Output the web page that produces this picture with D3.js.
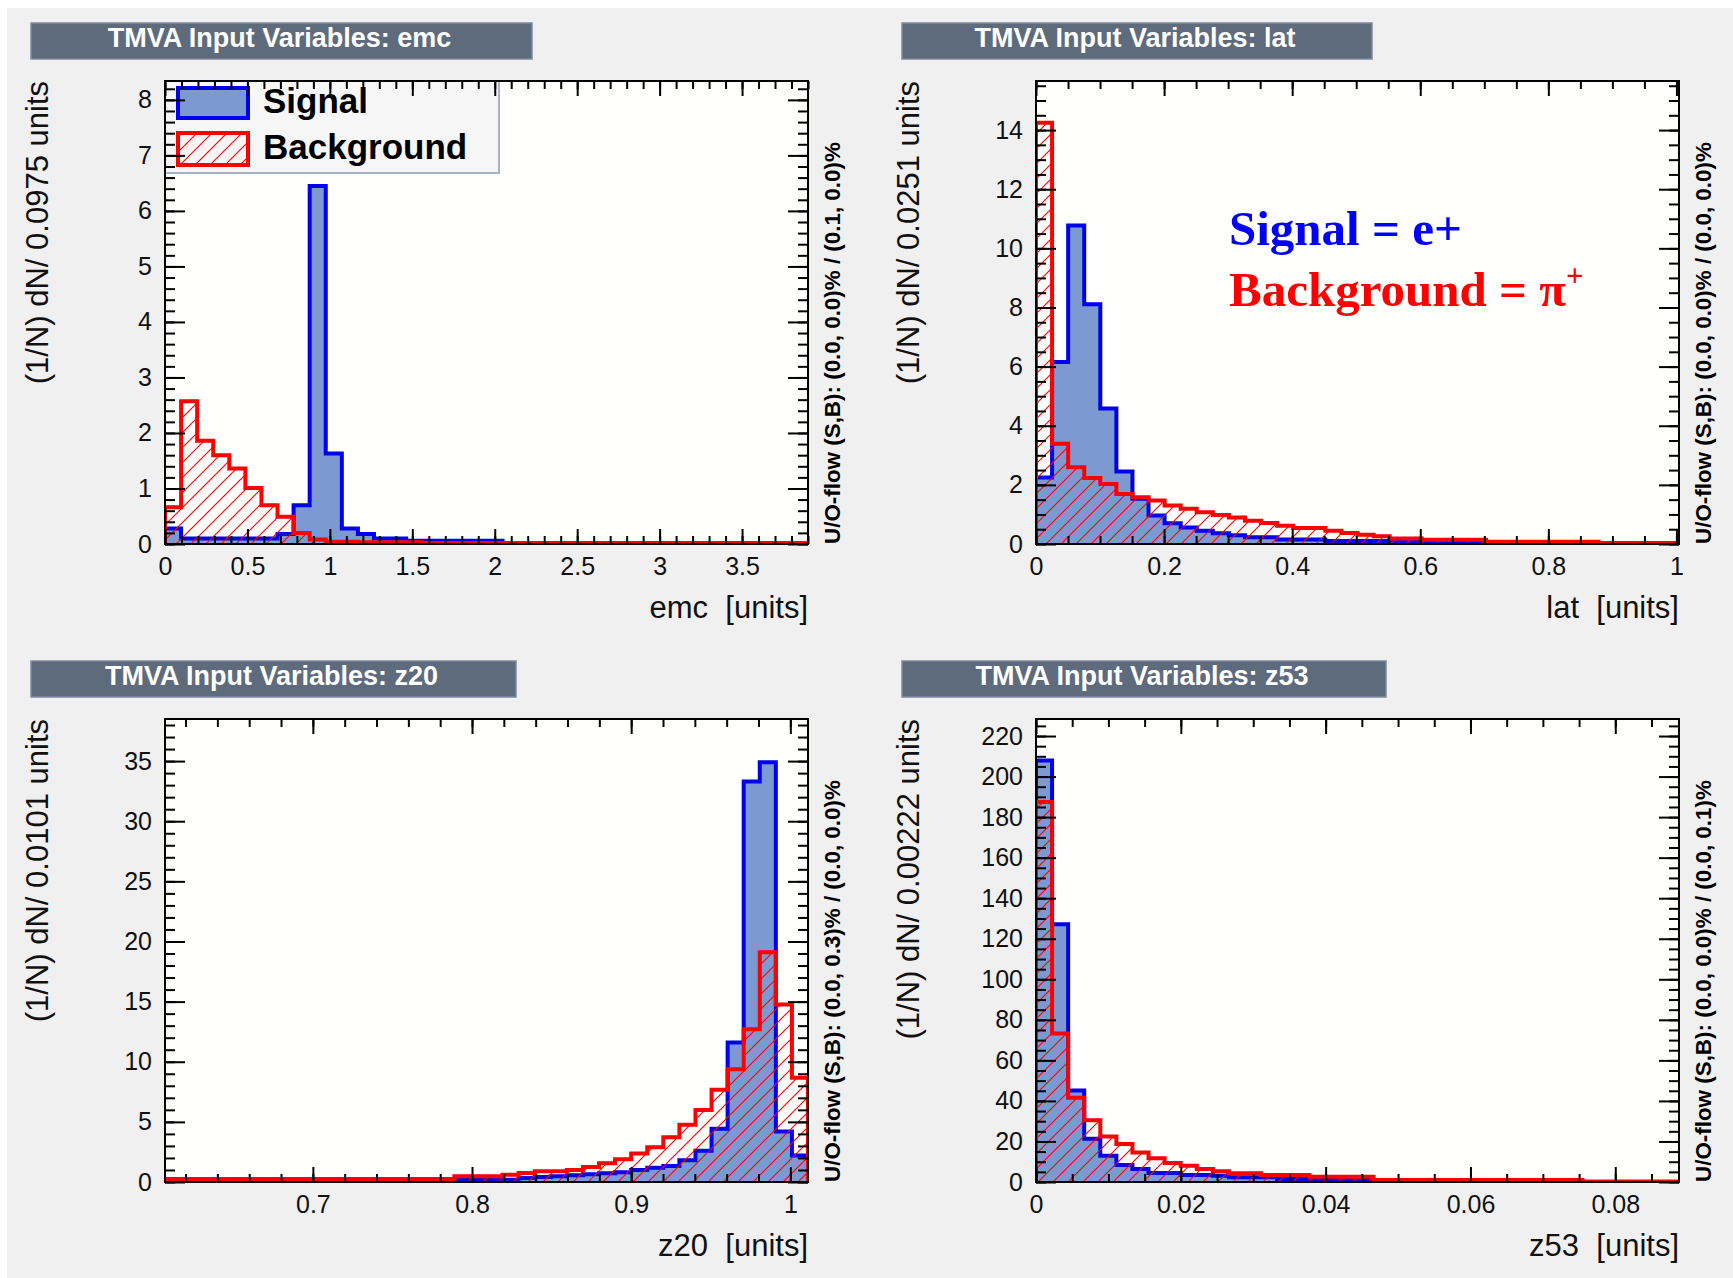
<!DOCTYPE html>
<html>
<head>
<meta charset="utf-8">
<script src="https://cdn.jsdelivr.net/npm/d3@7"></script>
<style>
  body { margin: 0; background: #ffffff; }
  svg { display: block; }
  text { font-family: "Liberation Sans", Arial, Helvetica, sans-serif; }
</style>
</head>
<body>
<svg id="canvas" width="1733" height="1278"></svg>
<script>
// ---- histogram contents, 40 bins each ----
const emcSignal = [0.28, 0.1, 0.1, 0.1, 0.1, 0.1, 0.1, 0.18, 0.7, 6.45,
  1.63, 0.28, 0.18, 0.1, 0.1, 0.06, 0.06, 0.06, 0.06, 0.06,
  0.06, 0, 0, 0, 0, 0, 0, 0, 0, 0,
  0, 0, 0, 0, 0, 0, 0, 0, 0, 0];
const emcBackground = [0.66, 2.57, 1.86, 1.6, 1.36, 1.01, 0.7, 0.49, 0.2, 0.08,
  0.04, 0.04, 0.03, 0.03, 0.03, 0.03, 0.02, 0.02, 0.02, 0.02,
  0.02, 0.02, 0.02, 0.02, 0.02, 0.02, 0.02, 0.02, 0.02, 0.02,
  0.02, 0.02, 0.02, 0.02, 0.02, 0.02, 0.02, 0.02, 0.02, 0.02];

const latSignal = [2.25, 6.16, 10.77, 8.11, 4.58, 2.45, 1.53, 0.96, 0.7, 0.56,
  0.45, 0.36, 0.3, 0.23, 0.23, 0.15, 0.15, 0.15, 0.1, 0.1,
  0.1, 0.1, 0.1, 0.1, 0.05, 0.05, 0.05, 0.05, 0.02, 0.02,
  0.02, 0.02, 0.02, 0.02, 0.01, 0.01, 0.01, 0.01, 0.01, 0.01];
const latBackground = [14.25, 3.39, 2.6, 2.23, 2.03, 1.69, 1.58, 1.47, 1.3, 1.19,
  1.07, 0.98, 0.9, 0.79, 0.71, 0.62, 0.54, 0.54, 0.45, 0.37,
  0.31, 0.26, 0.19, 0.19, 0.14, 0.14, 0.14, 0.14, 0.08, 0.08,
  0.08, 0.08, 0.08, 0.08, 0.08, 0.03, 0.03, 0.03, 0.03, 0.03];

const z20Signal = [0, 0, 0, 0, 0, 0, 0, 0, 0, 0,
  0, 0, 0, 0, 0, 0, 0, 0, 0.19, 0.19,
  0.19, 0.19, 0.33, 0.42, 0.47, 0.56, 0.65, 0.72, 0.82, 0.99,
  1.19, 1.33, 1.8, 2.6, 4.43, 11.6, 33.3, 34.9, 4.2, 2.2];
const z20Background = [0.25, 0.25, 0.25, 0.25, 0.25, 0.25, 0.25, 0.25, 0.25, 0.25,
  0.25, 0.25, 0.25, 0.25, 0.25, 0.25, 0.25, 0.25, 0.47, 0.47,
  0.47, 0.61, 0.75, 0.89, 0.89, 1.0, 1.25, 1.55, 1.89, 2.37,
  2.88, 3.73, 4.77, 5.99, 7.68, 9.38, 12.7, 19.1, 14.75, 8.67];

const z53Signal = [207.9, 127.1, 45.1, 21.3, 13.0, 8.4, 6.4, 4.4, 4.4, 3.45,
  3.45, 3.1, 2.3, 2.3, 2.3, 1.5, 1.5, 1.2, 1.2, 1.2,
  1.2, 0, 0, 0, 0, 0, 0, 0, 0, 0,
  0, 0, 0, 0, 0, 0, 0, 0, 0, 0];
const z53Background = [187.5, 73.2, 41.5, 30.5, 22.5, 18.7, 14.6, 11.7, 9.4, 8.0,
  6.4, 5.25, 4.3, 4.3, 3.45, 3.45, 3.45, 2.6, 2.6, 2.6,
  2.6, 1.0, 1.0, 1.0, 1.0, 1.0, 1.0, 1.0, 1.0, 1.0,
  1.0, 1.0, 1.0, 1.0, 0.3, 0.3, 0.3, 0.3, 0.3, 0.3];

// ---- axis tick labels ----
const emcXTicks = [0, 0.5, 1, 1.5, 2, 2.5, 3, 3.5];
const emcYTicks = [0, 1, 2, 3, 4, 5, 6, 7, 8];
const latXTicks = [0, 0.2, 0.4, 0.6, 0.8, 1];
const latYTicks = [0, 2, 4, 6, 8, 10, 12, 14];
const z20XTicks = [0.7, 0.8, 0.9, 1];
const z20YTicks = [0, 5, 10, 15, 20, 25, 30, 35];
const z53XTicks = [0, 0.02, 0.04, 0.06, 0.08];
const z53YTicks = [0, 20, 40, 60, 80, 100, 120, 140, 160, 180, 200, 220];

const panels = [
  { name: "emc", col: 0, row: 0, sig: emcSignal, bkg: emcBackground,
    xDomain: [0, 3.9], yMax: 8.34, xTicks: emcXTicks, xMinor: 0.1,
    yTicks: emcYTicks, yMinor: 0.2, titleW: 501,
    yTitle: "(1/N) dN/ 0.0975 units",
    flow: "U/O-flow (S,B): (0.0, 0.0)% / (0.1, 0.0)%" },
  { name: "lat", col: 1, row: 0, sig: latSignal, bkg: latBackground,
    xDomain: [0, 1.004], yMax: 15.66, xTicks: latXTicks, xMinor: 0.05,
    yTicks: latYTicks, yMinor: 0.5, titleW: 470,
    yTitle: "(1/N) dN/ 0.0251 units",
    flow: "U/O-flow (S,B): (0.0, 0.0)% / (0.0, 0.0)%" },
  { name: "z20", col: 0, row: 1, sig: z20Signal, bkg: z20Background,
    xDomain: [0.6071, 1.0111], yMax: 38.5, xTicks: z20XTicks, xMinor: 0.02,
    yTicks: z20YTicks, yMinor: 1, titleW: 485,
    yTitle: "(1/N) dN/ 0.0101 units",
    flow: "U/O-flow (S,B): (0.0, 0.3)% / (0.0, 0.0)%" },
  { name: "z53", col: 1, row: 1, sig: z53Signal, bkg: z53Background,
    xDomain: [0, 0.0888], yMax: 228.4, xTicks: z53XTicks, xMinor: 0.005,
    yTicks: z53YTicks, yMinor: 5, titleW: 484,
    yTitle: "(1/N) dN/ 0.00222 units",
    flow: "U/O-flow (S,B): (0.0, 0.0)% / (0.0, 0.1)%" }
];

// TMVA colours
const sigLine = "#0000ee", sigFill = "#7d99d1", bkgLine = "#ff0000";
const titleBox = "#5d6b7d", titleBorder = "#7d8b9d";

const COL = 871, ROW = 638;
const frame = { x: 165, y: 81, w: 643, h: 463 };
const fmt = d => String(+d.toFixed(4));

const svg = d3.select("#canvas");
svg.append("rect").attr("x", 7).attr("y", 8).attr("width", 1733).attr("height", 1278)
  .attr("fill", "#f0f0f0");

const defs = svg.append("defs");
defs.append("pattern").attr("id", "hatch").attr("patternUnits", "userSpaceOnUse")
  .attr("width", 15).attr("height", 15)
  .append("path").attr("d", "M-2,2 l4,-4 M0,15 l15,-15 M13,17 l4,-4")
  .attr("stroke", bkgLine).attr("stroke-width", 1.1);

function minorTicks(domain, step) {
  const a = Math.ceil(domain[0] / step - 1e-6), b = Math.floor(domain[1] / step + 1e-6);
  return d3.range(a, b + 1).map(k => +(k * step).toFixed(6));
}

function styleAxis(g) {
  g.select(".domain").remove();
  g.selectAll("line").attr("stroke", "#000").attr("stroke-width", 2);
  g.selectAll("text").attr("fill", "#111").attr("font-size", 25)
    .attr("font-family", "'Liberation Sans', Arial, sans-serif");
}

panels.forEach((p, i) => {
  const fx = frame.x + p.col * COL, fy = frame.y + p.row * ROW;
  const fb = fy + frame.h, fr = fx + frame.w;
  const x = d3.scaleLinear().domain(p.xDomain).range([fx, fr]);
  const y = d3.scaleLinear().domain([0, p.yMax]).range([fb, fy]);
  const binW = (p.xDomain[1] - p.xDomain[0]) / p.sig.length;

  // title bar
  const tx = 31 + p.col * COL, ty = 23 + p.row * ROW;
  svg.append("rect").attr("x", tx).attr("y", ty).attr("width", p.titleW).attr("height", 36)
    .attr("fill", titleBox).attr("stroke", titleBorder).attr("stroke-width", 1.5);
  svg.append("text").attr("x", tx + p.titleW / 2 - 2).attr("y", ty + 24)
    .attr("text-anchor", "middle").attr("fill", "#fff").attr("font-weight", "bold")
    .attr("font-size", 27).text("TMVA Input Variables: " + p.name);

  // frame
  svg.append("rect").attr("x", fx).attr("y", fy).attr("width", frame.w).attr("height", frame.h)
    .attr("fill", "#fffffd");
  defs.append("clipPath").attr("id", "clip" + i).append("rect")
    .attr("x", fx).attr("y", fy).attr("width", frame.w).attr("height", frame.h);

  const stepLine = d3.line().x(d => x(d[0])).y(d => y(d[1])).curve(d3.curveStepAfter);
  const pts = vals => [[p.xDomain[0], 0]]
    .concat(vals.map((v, k) => [p.xDomain[0] + k * binW, v]))
    .concat([[p.xDomain[1], 0]]);

  const plot = svg.append("g").attr("clip-path", `url(#clip${i})`);
  plot.append("path").attr("d", stepLine(pts(p.sig)))
    .attr("fill", sigFill).attr("stroke", sigLine).attr("stroke-width", 4)
    .attr("stroke-linejoin", "miter");
  plot.append("path").attr("d", stepLine(pts(p.bkg)))
    .attr("fill", "url(#hatch)").attr("stroke", bkgLine).attr("stroke-width", 4)
    .attr("stroke-linejoin", "miter");

  // legend (first panel only)
  if (i === 0) {
    const lg = svg.append("g");
    lg.append("rect").attr("x", fx).attr("y", fy).attr("width", 334).attr("height", 92)
      .attr("fill", "#f6f6f6").attr("stroke", "#8d9cb2").attr("stroke-width", 1.5);
    lg.append("rect").attr("x", 178).attr("y", 88).attr("width", 70).attr("height", 30)
      .attr("fill", sigFill).attr("stroke", sigLine).attr("stroke-width", 4);
    lg.append("rect").attr("x", 178).attr("y", 133).attr("width", 70).attr("height", 32)
      .attr("fill", "url(#hatch)").attr("stroke", bkgLine).attr("stroke-width", 4);
    lg.append("text").attr("x", 263).attr("y", 113).attr("font-size", 35)
      .attr("font-weight", "bold").attr("fill", "#000").text("Signal");
    lg.append("text").attr("x", 263).attr("y", 159).attr("font-size", 35)
      .attr("font-weight", "bold").attr("fill", "#000").text("Background");
  }

  // axes: major + minor ticks on all four sides
  const xMin = minorTicks(p.xDomain, p.xMinor), yMin = minorTicks([0, p.yMax], p.yMinor);
  svg.append("g").attr("transform", `translate(0,${fb})`)
    .call(d3.axisBottom(x).tickValues(xMin).tickSize(-8).tickFormat("")).call(styleAxis);
  svg.append("g").attr("transform", `translate(0,${fb})`)
    .call(d3.axisBottom(x).tickValues(p.xTicks).tickSize(-15).tickPadding(13).tickFormat(fmt))
    .call(styleAxis);
  svg.append("g").attr("transform", `translate(0,${fy})`)
    .call(d3.axisTop(x).tickValues(xMin).tickSize(-8).tickFormat("")).call(styleAxis);
  svg.append("g").attr("transform", `translate(0,${fy})`)
    .call(d3.axisTop(x).tickValues(p.xTicks).tickSize(-15).tickFormat("")).call(styleAxis);
  svg.append("g").attr("transform", `translate(${fx},0)`)
    .call(d3.axisLeft(y).tickValues(yMin).tickSize(-10).tickFormat("")).call(styleAxis);
  svg.append("g").attr("transform", `translate(${fx},0)`)
    .call(d3.axisLeft(y).tickValues(p.yTicks).tickSize(-20).tickPadding(13).tickFormat(fmt))
    .call(styleAxis);
  svg.append("g").attr("transform", `translate(${fr},0)`)
    .call(d3.axisRight(y).tickValues(yMin).tickSize(-10).tickFormat("")).call(styleAxis);
  svg.append("g").attr("transform", `translate(${fr},0)`)
    .call(d3.axisRight(y).tickValues(p.yTicks).tickSize(-20).tickFormat("")).call(styleAxis);

  svg.append("rect").attr("x", fx).attr("y", fy).attr("width", frame.w).attr("height", frame.h)
    .attr("fill", "none").attr("stroke", "#000").attr("stroke-width", 2);

  // axis titles
  svg.append("text").attr("x", fr).attr("y", fb + 74).attr("text-anchor", "end")
    .attr("font-size", 31).attr("fill", "#111").style("white-space", "pre")
    .text(p.name + "  [units]");
  svg.append("text").attr("transform", `translate(${48 + p.col * COL},${fy}) rotate(-90)`)
    .attr("text-anchor", "end").attr("font-size", 31).attr("fill", "#111")
    .text(p.yTitle);
  svg.append("text").attr("transform", `translate(${fr + 32},${fb}) rotate(-90)`)
    .attr("text-anchor", "start").attr("font-size", 22.4).attr("font-weight", "bold")
    .attr("fill", "#000").text(p.flow);
});

// annotation in the lat panel
const note = svg.append("g").attr("font-weight", "bold").attr("font-size", 49);
note.append("text").attr("x", 1229).attr("y", 245).attr("fill", "#0000ff")
  .style("font-family", "'Liberation Serif', 'Times New Roman', serif").text("Signal = e+");
const bt = note.append("text").attr("x", 1229).attr("y", 306).attr("fill", "#ff0000")
  .style("font-family", "'Liberation Serif', 'Times New Roman', serif");
bt.append("tspan").text("Background = \u03c0");
bt.append("tspan").attr("dy", -20).attr("font-size", 31).text("+");
</script>
</body>
</html>
